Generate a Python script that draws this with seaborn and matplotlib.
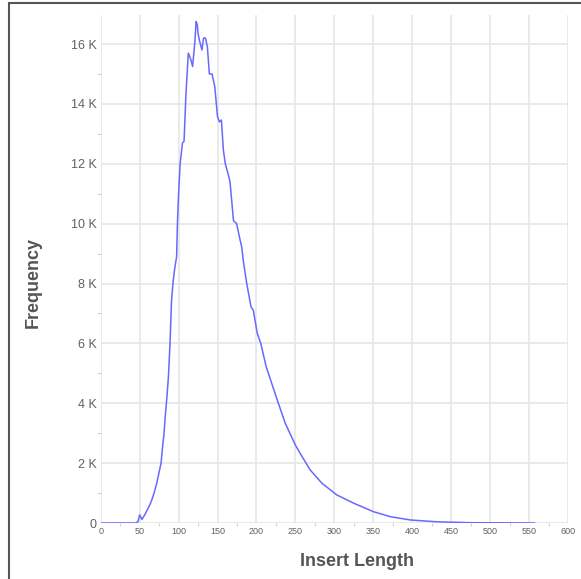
import pandas as pd
import matplotlib
matplotlib.use('Agg')
import matplotlib.pyplot as plt
import seaborn as sns
from matplotlib.ticker import FuncFormatter, MultipleLocator
from matplotlib.lines import Line2D

# values
insert_length = [0, 45, 48, 50, 52, 53, 56, 60, 63, 66, 68.5, 72, 75, 77.5, 80, 81,
                 83, 85, 87, 89, 91, 93, 95, 97.5, 98.5, 100, 102, 105, 107, 109.5,
                 112.5, 115.5, 118, 121, 122.5, 124, 125, 127, 130, 132, 134.5, 137,
                 139.5, 143, 146.5, 150, 152.5, 155, 157.5, 160, 164.5, 166, 170.5,
                 174.5, 179, 181, 183, 187.5, 193, 196, 201, 205.5, 212.5, 219.5, 226,
                 237, 250, 256, 269, 284, 303, 325, 350, 372, 398, 432, 475, 557]
frequency = [0, 0, 50, 270, 170, 120, 250, 450, 600, 800, 1000, 1330, 1700, 2000,
             2700, 2900, 3600, 4200, 4900, 6000, 7450, 8060, 8500, 8900, 10000, 11000,
             12000, 12700, 12750, 14350, 15700, 15500, 15250, 16100, 16750, 16650,
             16350, 16100, 15800, 16200, 16200, 15900, 15000, 15000, 14570, 13570,
             13400, 13460, 12460, 12000, 11570, 11400, 10100, 10000, 9450, 9230, 8780,
             8000, 7220, 7100, 6340, 6000, 5220, 4670, 4160, 3330, 2600, 2330, 1770,
             1330, 940, 660, 380, 210, 100, 40, 10, 0]

x_ticks = list(range(0, 601, 50))
y_ticks = list(range(0, 16001, 2000))


def k_label(v, pos):
    return '0' if v == 0 else f'{int(v / 1000)} K'


df = pd.DataFrame({'Insert Length': insert_length, 'Frequency': frequency})

sns.set_style('white')
plt.rcParams['font.family'] = ['Liberation Sans', 'DejaVu Sans']

fig = plt.figure(figsize=(5.81, 5.79), dpi=100)
ax = fig.add_axes([100.7 / 581, 1 - 523 / 579, 467.3 / 581, 508 / 579])

sns.lineplot(data=df, x='Insert Length', y='Frequency', ax=ax,
             color='#6868ff', linewidth=1.1)

ax.set_xlim(0, 600)
ax.set_ylim(0, 16970)
ax.set_xticks(x_ticks)
ax.set_yticks(y_ticks)
ax.xaxis.set_minor_locator(MultipleLocator(25))
ax.yaxis.set_minor_locator(MultipleLocator(1000))
ax.yaxis.set_major_formatter(FuncFormatter(k_label))
ax.grid(True, which='major', color='#e6e6e6', linewidth=1.2)
for s in ax.spines.values():
    s.set_visible(False)

ax.tick_params(axis='y', which='major', length=0, pad=3, labelsize=9, labelcolor='#606060')
ax.tick_params(axis='x', which='major', length=0, pad=3, labelsize=6.5, labelcolor='#606060')
ax.tick_params(which='minor', length=3, width=0.8, color='#d0d0d0')
ax.tick_params(axis='x', which='minor', bottom=True, length=2)
ax.tick_params(axis='y', which='minor', left=True)

ax.set_xlabel('')
ax.set_ylabel('')
fig.text(357 / 581, 1 - 561 / 579, 'Insert Length', ha='center', va='center',
         fontsize=13, fontweight='bold', color='#555555')
fig.text(33 / 581, 1 - 283 / 579, 'Frequency', ha='center', va='center', rotation=90,
         fontsize=13, fontweight='bold', color='#555555')

# screenshot frame on the left and top edges
fig.add_artist(Line2D([9 / 581, 9 / 581], [0, 1 - 2.5 / 579], transform=fig.transFigure,
                      color='#555555', linewidth=1.5))
fig.add_artist(Line2D([9 / 581, 1], [1 - 2.5 / 579, 1 - 2.5 / 579], transform=fig.transFigure,
                      color='#555555', linewidth=1.5))

fig.savefig('out.png', dpi=100)
